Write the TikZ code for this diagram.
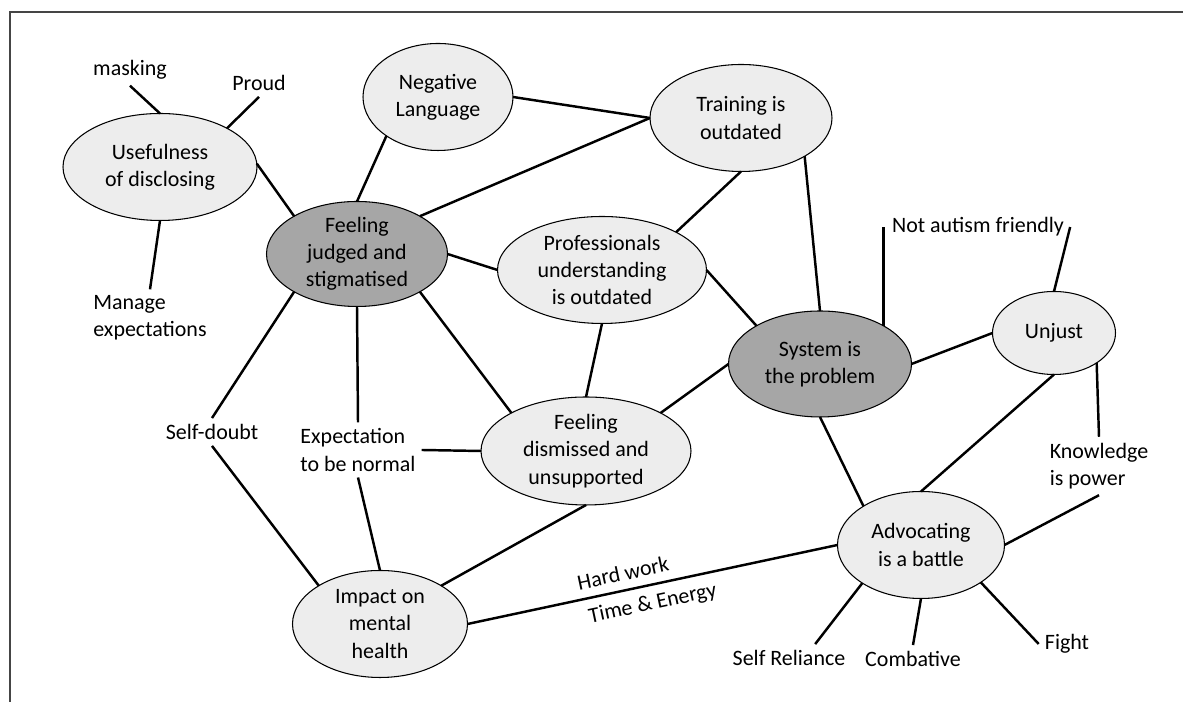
\documentclass[tikz,border=0pt]{standalone}
\usepackage{fontspec}
\setmainfont{Carlito}
\usetikzlibrary{shapes.geometric}
\definecolor{ovalfill}{HTML}{EDEDED}
\definecolor{corefill}{HTML}{A6A6A6}
\definecolor{framegrey}{HTML}{454545}

\begin{document}
\begin{tikzpicture}[every node/.style={font=\fontsize{12.5}{15.5}\selectfont, align=center},
	theme/.style={ellipse, draw, line width=0.6pt, fill=ovalfill, inner sep=0pt, outer sep=0pt, minimum height=2.14cm},
	core/.style={theme, fill=corefill},
	every edge/.style={draw, line width=1.4pt}]
	
	\useasboundingbox (0,0) rectangle (23.66,14.04);
	\draw[framegrey, line width=0.8pt] (23.66,13.8) -- (0.2,13.8) -- (0.2,0);
	
	\node[theme, minimum width=3.88cm] (useful) at (3.20,10.70) {Usefulness\\of disclosing};
	\node[theme, minimum width=3.00cm] (neglang) at (8.76,12.10) {Negative\\Language};
	\node[theme, minimum width=3.64cm] (training) at (14.82,11.68) {Training is\\outdated};
	\node[core, minimum width=3.62cm, minimum height=2.10cm] (judged) at (7.14,8.96) {Feeling\\judged and\\stigmatised};
	\node[theme, minimum width=4.18cm] (prof) at (12.04,8.64) {Professionals\\understanding\\is outdated};
	\node[core, minimum width=3.66cm, minimum height=2.12cm] (system) at (16.40,6.76) {System is\\the problem};
	\node[theme, minimum width=2.46cm, minimum height=1.66cm] (unjust) at (21.08,7.38) {Unjust};
	\node[theme, minimum width=4.20cm, minimum height=2.16cm] (dismissed) at (11.72,5.02) {Feeling\\dismissed and\\unsupported};
	\node[theme, minimum width=3.50cm] (impact) at (7.60,1.56) {Impact on\\mental\\health};
	\node[theme, minimum width=3.34cm] (advocate) at (18.42,3.14) {Advocating\\is a battle};
	
	\node (masking) at (2.60,12.64) {masking};
	\node (proud) at (5.18,12.38) {Proud};
	\node[align=left] (manage) at (3.00,7.68) {Manage\\expectations};
	\node (selfdoubt) at (4.24,5.40) {Self-doubt};
	\node[align=left] (expect) at (7.16,5.04) {Expectation\\to be normal};
	\node (notautism) at (19.56,9.50) {Not autism friendly};
	\node[align=left] (knowledge) at (21.98,4.72) {Knowledge\\is power};
	\node (selfrel) at (15.78,0.88) {Self Reliance};
	\node (combative) at (18.26,0.86) {Combative};
	\node (fight) at (21.34,1.16) {Fight};
	
	\path (masking.south) edge (useful.north);
	\path (proud.south) edge (useful.30);
	\path (useful.2) edge (judged.149);
	\path (useful.south) edge (manage.north);
	\path (judged.north) edge (neglang.217);
	\path (neglang.east) edge (training.west);
	\path (judged.31) edge (training.west);
	\path (training.south) edge (prof.27);
	\path (training.329) edge (system.north);
	\path (judged.east) edge (prof.west);
	\path (prof.east) edge (system.149);
	\path (prof.south) edge (dismissed.north);
	\path (judged.329) edge (dismissed.153);
	\path (dismissed.27) edge (system.west);
	\path (judged.211) edge (selfdoubt.north);
	\path (selfdoubt.south) edge (impact.148);
	\path (judged.south) edge (expect.north);
	\path (expect.south) edge (impact.north);
	\path (expect.east) edge (dismissed.west);
	\path (dismissed.south) edge (impact.32);
	\path (impact.east) edge node[pos=.43, sloped, above=1.5pt] {Hard work} node[pos=.49, sloped, below=1.5pt] {Time \& Energy} (advocate.west);
	\path (system.east) edge (unjust.west);
	\path (system.31) edge (system.31 |- notautism.west);
	\path (notautism.east) edge (unjust.north);
	\path (unjust.325) edge (knowledge.north);
	\path (unjust.south) edge (advocate.north);
	\path (system.south) edge (advocate.146);
	\path (knowledge.south) edge (advocate.east);
	\path (advocate.213) edge (selfrel.28);
	\path (advocate.south) edge (combative.north);
	\path (advocate.328) edge (fight.west);
	
\end{tikzpicture}
\end{document}
